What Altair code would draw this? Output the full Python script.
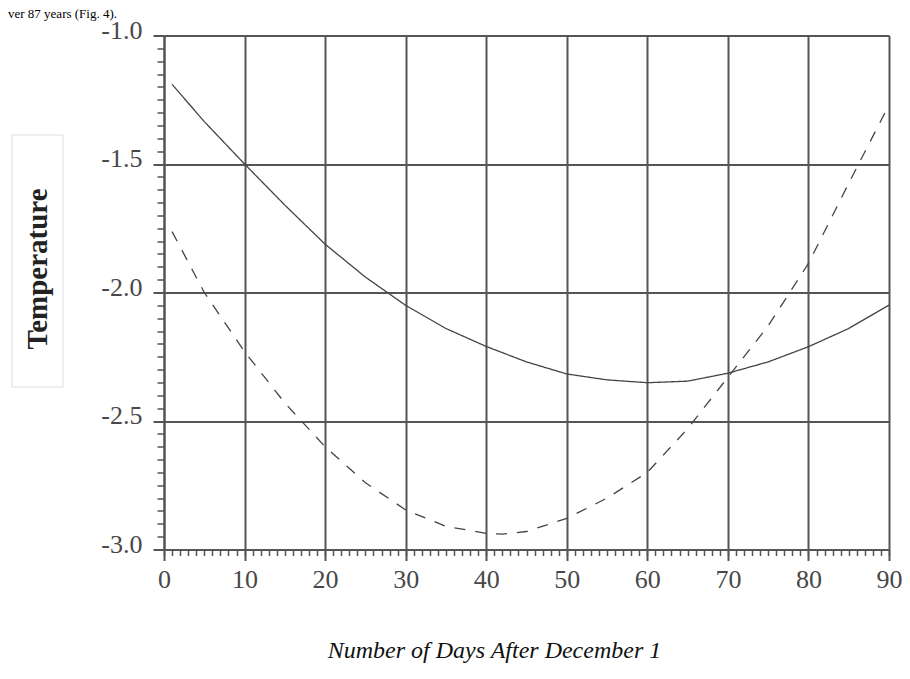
import altair as alt
import pandas as pd
import numpy as np

# ---- data ----
solid_days = [1, 5, 10, 15, 20, 25, 30, 35, 40, 45, 50, 55, 60, 65, 70, 75, 80, 85, 90]
solid_vals = [-1.19, -1.335, -1.50, -1.66, -1.812, -1.94, -2.05, -2.14, -2.21, -2.27,
              -2.317, -2.34, -2.351, -2.345, -2.314, -2.27, -2.211, -2.14, -2.049]

dash_days = [1, 5, 10, 15, 20, 25, 30, 35, 40, 42, 45, 50, 55, 60, 65, 70, 75, 80, 85, 90]
dash_vals = [-1.763, -2.0, -2.23, -2.43, -2.60, -2.74, -2.846, -2.91, -2.937, -2.94, -2.93,
             -2.879, -2.80, -2.70, -2.53, -2.33, -2.13, -1.887, -1.575, -1.27]

x_major = list(range(0, 91, 10))
y_major = [-3.0, -2.5, -2.0, -1.5, -1.0]
x_minor = list(range(0, 91, 1))
y_minor = [round(v, 2) for v in np.arange(-3.0, -0.999, 0.05)]

series_names = ["solid", "dashed"]
x_title = "Number of Days After December 1"
y_title = "Temperature"
top_text = "ver 87 years (Fig. 4)."

df = pd.concat([
    pd.DataFrame({"day": solid_days, "temp": solid_vals, "series": series_names[0]}),
    pd.DataFrame({"day": dash_days, "temp": dash_vals, "series": series_names[1]}),
])

W, H = 725, 514
SERIF = "Liberation Serif"
GRID = "#555555"
LBL = "#484848"

x_scale = alt.Scale(domain=[0, 90], nice=False, zero=False)
y_scale = alt.Scale(domain=[-3.0, -1.0], nice=False, zero=False)

main = alt.Chart(df).mark_line(strokeWidth=1.3, color="#444444").encode(
    x=alt.X("day:Q", scale=x_scale, axis=alt.Axis(
        orient="bottom", values=x_major, grid=True, gridColor=GRID, gridWidth=2, gridOpacity=1,
        domainColor=GRID, domainWidth=2, tickColor=GRID, tickWidth=2, tickSize=11,
        labelFont=SERIF, labelFontSize=26, labelColor=LBL, labelPadding=6,
        labelFlush=False, labelOverlap=False, format="d",
        title=x_title, titleFont=SERIF, titleFontSize=24, titleFontStyle="italic",
        titleFontWeight="normal", titleColor="#111111", titleX=330, titleY=107.5,
        titleBaseline="alphabetic", titleAlign="center")),
    y=alt.Y("temp:Q", scale=y_scale, axis=alt.Axis(
        orient="left", values=y_major, grid=True, gridColor=GRID, gridWidth=2, gridOpacity=1,
        domainColor=GRID, domainWidth=2, tickColor=GRID, tickWidth=2, tickSize=11,
        labelFont=SERIF, labelFontSize=26, labelColor=LBL, labelPadding=11,
        labelBaseline="alphabetic", labelOffset=2.5, labelFlush=False, labelOverlap=False,
        labelExpr="'-' + format(abs(datum.value), '.1f')",
        title=y_title, titleFont=SERIF, titleFontSize=29, titleFontWeight="bold",
        titleColor="#222222", titleAngle=270, titleX=-126.5, titleY=233,
        titleAlign="center", titleBaseline="middle")),
    strokeDash=alt.StrokeDash("series:N", scale=alt.Scale(
        domain=series_names, range=[[1, 0], [11, 10]]), legend=None),
    detail="series:N",
)

minor = alt.Chart(df).mark_point(opacity=0).encode(
    x=alt.X("day:Q", scale=x_scale, axis=alt.Axis(
        orient="bottom", values=x_minor, grid=False, domain=False, labels=False,
        tickColor=GRID, tickWidth=1.5, tickSize=6, title=None)),
    y=alt.Y("temp:Q", scale=y_scale, axis=alt.Axis(
        orient="left", values=y_minor, grid=False, domain=False, labels=False,
        tickColor=GRID, tickWidth=1.5, tickSize=7, title=None)),
)

box = alt.Chart(pd.DataFrame({"k": [0]})).mark_rect(
    fill="white", fillOpacity=0, stroke="#dddddd", strokeWidth=1
).encode(
    x=alt.value(-152), x2=alt.value(-101), y=alt.value(99.5), y2=alt.value(351.5)
)

note = alt.Chart(pd.DataFrame({"t": [top_text]})).mark_text(
    font=SERIF, fontSize=13, color="#000000", align="left", baseline="alphabetic"
).encode(x=alt.value(-156), y=alt.value(-18), text="t:N")

chart = alt.layer(box, minor, main, note).resolve_axis(
    x="independent", y="independent"
).resolve_scale(x="shared", y="shared").properties(
    width=W, height=H,
    padding={"left": 156, "top": 27.5, "right": 13, "bottom": 113},
    autosize=alt.AutoSizeParams(type="none"),
    background="white",
).configure_view(stroke=None)

chart.save("out.html", embed_options={"renderer": "svg", "actions": False})
